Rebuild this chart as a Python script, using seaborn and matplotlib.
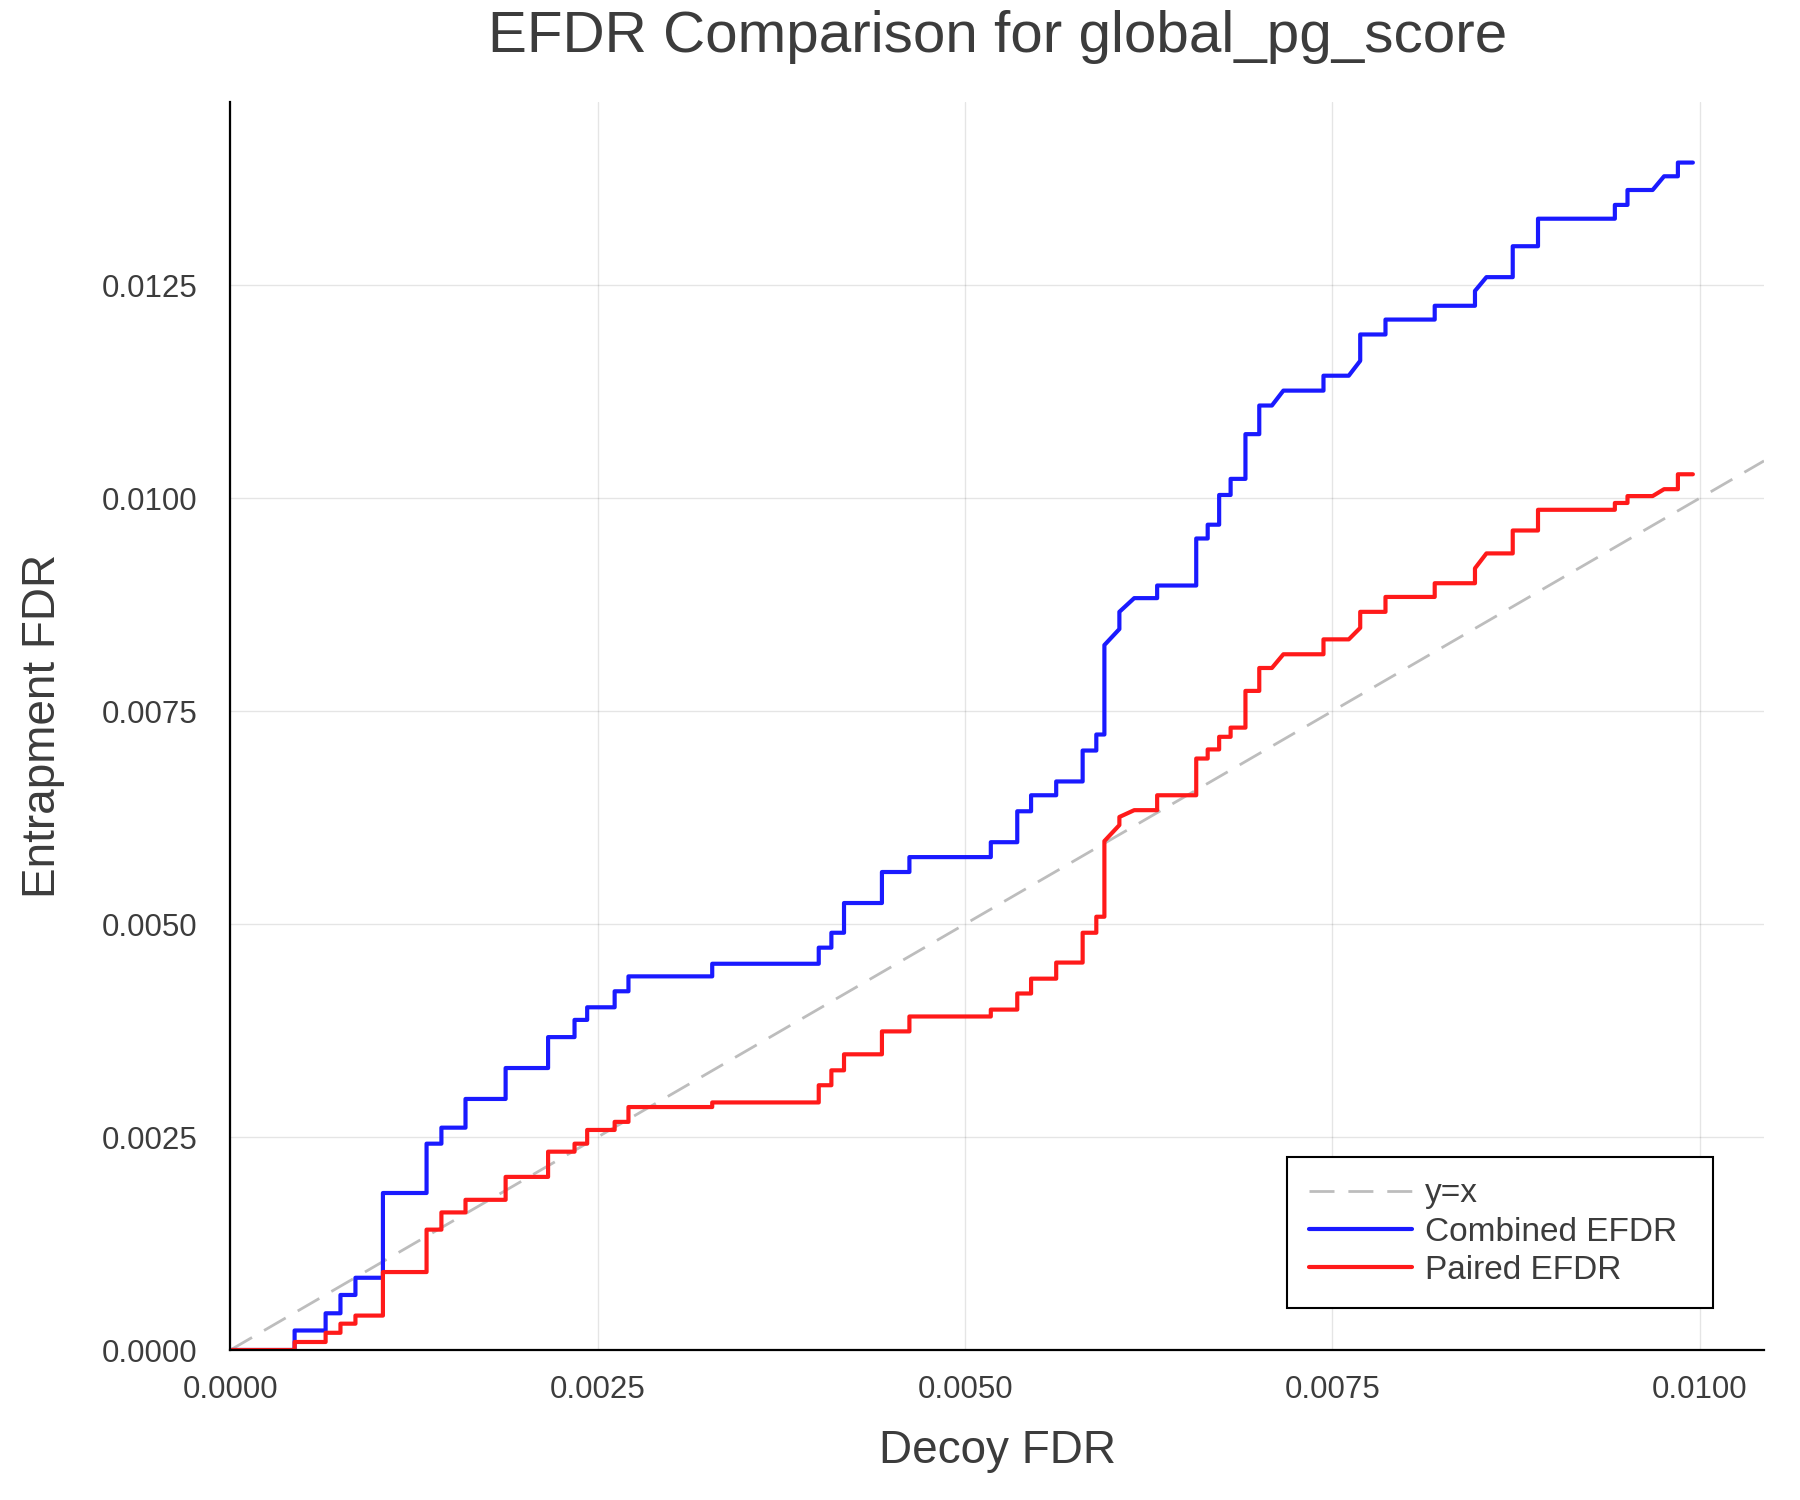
import pandas as pd
import matplotlib
matplotlib.use('Agg')
import matplotlib.pyplot as plt
import seaborn as sns

# Vertices of the two EFDR curves (shared decoy FDR breakpoints)
decoy_fdr = [
    0.0, 0.000437, 0.000437, 0.000648, 0.000648, 0.000749, 0.000749, 0.000851, 0.000851, 0.001038,
    0.001038, 0.001335, 0.001335, 0.001436, 0.001436, 0.001600, 0.001600, 0.001873, 0.001873, 0.002162,
    0.002162, 0.002342, 0.002342, 0.002428, 0.002428, 0.002615, 0.002615, 0.002709, 0.002709, 0.003279,
    0.003279, 0.004004, 0.004004, 0.004090, 0.004090, 0.004176, 0.004176, 0.004434, 0.004434, 0.004621,
    0.004621, 0.005175, 0.005175, 0.005355, 0.005355, 0.005449, 0.005449, 0.005620, 0.005620, 0.005800,
    0.005800, 0.005893, 0.005893, 0.005948, 0.005948, 0.006050, 0.006050, 0.006151, 0.006307, 0.006307,
    0.006573, 0.006573, 0.006651, 0.006651, 0.006729, 0.006729, 0.006807, 0.006807, 0.006908, 0.006908,
    0.007002, 0.007002, 0.007088, 0.007166, 0.007439, 0.007439, 0.007611, 0.007689, 0.007689, 0.007861,
    0.007861, 0.008196, 0.008196, 0.008470, 0.008470, 0.008548, 0.008727, 0.008727, 0.008899, 0.008899,
    0.009422, 0.009422, 0.009508, 0.009508, 0.009679, 0.009757, 0.009851, 0.009851, 0.009953,
]
combined_efdr = [
    0.0, 0.0, 0.000229, 0.000229, 0.000431, 0.000431, 0.000646, 0.000646, 0.000848, 0.000848,
    0.001843, 0.001843, 0.002422, 0.002422, 0.002610, 0.002610, 0.002947, 0.002947, 0.003310, 0.003310,
    0.003673, 0.003673, 0.003875, 0.003875, 0.004023, 0.004023, 0.004211, 0.004211, 0.004386, 0.004386,
    0.004534, 0.004534, 0.004723, 0.004723, 0.004898, 0.004898, 0.005247, 0.005247, 0.005611, 0.005611,
    0.005786, 0.005786, 0.005961, 0.005961, 0.006324, 0.006324, 0.006512, 0.006512, 0.006674, 0.006674,
    0.007037, 0.007037, 0.007225, 0.007225, 0.008275, 0.008463, 0.008665, 0.008826, 0.008826, 0.008974,
    0.008974, 0.009526, 0.009526, 0.009688, 0.009688, 0.010037, 0.010037, 0.010226, 0.010226, 0.010751,
    0.010751, 0.011087, 0.011087, 0.011262, 0.011262, 0.011437, 0.011437, 0.011612, 0.011921, 0.011921,
    0.012096, 0.012096, 0.012258, 0.012258, 0.012432, 0.012594, 0.012594, 0.012957, 0.012957, 0.013280,
    0.013280, 0.013442, 0.013442, 0.013617, 0.013617, 0.013778, 0.013778, 0.013939, 0.013939,
]
paired_efdr = [
    0.0, 0.0, 0.000094, 0.000094, 0.000202, 0.000202, 0.000309, 0.000309, 0.000404, 0.000404,
    0.000915, 0.000915, 0.001413, 0.001413, 0.001615, 0.001615, 0.001763, 0.001763, 0.002032, 0.002032,
    0.002328, 0.002328, 0.002422, 0.002422, 0.002583, 0.002583, 0.002678, 0.002678, 0.002852, 0.002852,
    0.002906, 0.002906, 0.003108, 0.003108, 0.003283, 0.003283, 0.003471, 0.003471, 0.003740, 0.003740,
    0.003915, 0.003915, 0.003996, 0.003996, 0.004185, 0.004185, 0.004359, 0.004359, 0.004548, 0.004548,
    0.004898, 0.004898, 0.005086, 0.005086, 0.005974, 0.006162, 0.006257, 0.006337, 0.006337, 0.006512,
    0.006512, 0.006943, 0.006943, 0.007050, 0.007050, 0.007198, 0.007198, 0.007306, 0.007306, 0.007737,
    0.007737, 0.008006, 0.008006, 0.008167, 0.008167, 0.008342, 0.008342, 0.008477, 0.008665, 0.008665,
    0.008840, 0.008840, 0.009001, 0.009001, 0.009176, 0.009351, 0.009351, 0.009620, 0.009620, 0.009863,
    0.009863, 0.009943, 0.009943, 0.010024, 0.010024, 0.010105, 0.010105, 0.010280, 0.010280,
]
x_ticks = [0.0, 0.0025, 0.0050, 0.0075, 0.0100]
y_ticks = [0.0, 0.0025, 0.0050, 0.0075, 0.0100, 0.0125]

df = pd.DataFrame({'decoy': decoy_fdr, 'combined': combined_efdr, 'paired': paired_efdr})

sns.set_style('white')
plt.rcParams['font.family'] = ['Liberation Sans', 'DejaVu Sans']
text_col = '#3c3c3c'

fig = plt.figure(figsize=(18, 15), dpi=100)
ax = fig.add_axes([0.128, 0.1, 0.852, 0.832])

ax.axline((0, 0), slope=1, color='#bdbdbd', lw=2, linestyle=(0, (9, 5)), label='y=x')
sns.lineplot(data=df, x='decoy', y='combined', ax=ax, sort=False, estimator=None,
             color='#1a1aff', lw=3, label='Combined EFDR')
sns.lineplot(data=df, x='decoy', y='paired', ax=ax, sort=False, estimator=None,
             color='#ff1a1a', lw=3, label='Paired EFDR')

ax.set_xlim(0, 0.010437)
ax.set_ylim(0, 0.01465)
ax.set_xticks(x_ticks)
ax.set_yticks(y_ticks)
ax.set_xticklabels([f'{v:.4f}' for v in x_ticks])
ax.set_yticklabels([f'{v:.4f}' for v in y_ticks])
ax.tick_params(direction='in', length=10, width=1.5, labelsize=22.5, colors='black',
               labelcolor=text_col)
ax.tick_params(axis='x', pad=18)
ax.tick_params(axis='y', pad=24)

ax.grid(True, color='black', alpha=0.1, lw=1)
for s in ['top', 'right']:
    ax.spines[s].set_visible(False)
for s in ['left', 'bottom']:
    ax.spines[s].set_color('black')
    ax.spines[s].set_linewidth(1.6)

ax.set_title('EFDR Comparison for global_pg_score', fontsize=42, color=text_col, pad=36)
ax.set_xlabel('Decoy FDR', fontsize=33, color=text_col, labelpad=17)
ax.set_ylabel('Entrapment FDR', fontsize=33, color=text_col, labelpad=26)

leg = ax.legend(loc='lower left', bbox_to_anchor=(0.689, 0.034, 0.2775, 0.12), mode='expand',
                borderaxespad=0, fontsize=24, frameon=True, fancybox=False, framealpha=1,
                edgecolor='black', handlelength=3.1, labelspacing=0.22,
                borderpad=0.65, handletextpad=0.4)
leg.get_frame().set_linewidth(1.5)
for t in leg.get_texts():
    t.set_color(text_col)

fig.savefig('out.png', dpi=100)
